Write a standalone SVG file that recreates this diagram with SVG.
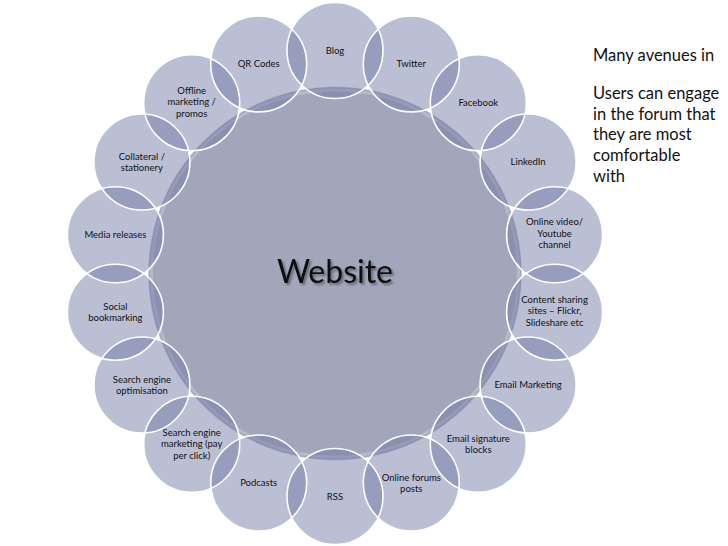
<svg xmlns="http://www.w3.org/2000/svg" width="728" height="546" viewBox="0 0 728 546">
<defs>
<filter id="sh" x="-10%" y="-20%" width="120%" height="140%">
<feGaussianBlur in="SourceAlpha" stdDeviation="1.2"/>
<feOffset dx="1.5" dy="1.5" result="b"/>
<feComponentTransfer><feFuncA type="linear" slope="0.4"/></feComponentTransfer>
<feMerge><feMergeNode/><feMergeNode in="SourceGraphic"/></feMerge>
</filter>
</defs>
<style>
.o{fill:rgb(112,121,166);fill-opacity:0.48}
.ln{fill:none;stroke:#fff;stroke-width:1.6}
.t{font-family:Lato,"Liberation Sans",sans-serif;font-size:9.5px;fill:#111;text-anchor:middle}
.side{font-family:Lato,"Liberation Sans",sans-serif;font-size:16.5px;fill:#111}
</style>
<rect width="728" height="546" fill="#fff"/>
<g id="website">
<circle cx="335" cy="273.5" r="187" fill="#A2A6BA" stroke="#fff" stroke-opacity="0.7" stroke-width="1.2"/>
<circle cx="335" cy="273.5" r="183.5" fill="none" stroke="#BEC2D2" stroke-opacity="0.7" stroke-width="3"/>
<text x="335" y="283" font-family="Lato,'Liberation Sans',sans-serif" font-size="32" fill="#111" text-anchor="middle" filter="url(#sh)">Website</text>
</g>
<g id="blog"><circle class="o" cx="335" cy="50.5" r="48"/><text class="t" x="335" y="53.5">Blog</text></g>
<g id="twitter"><circle class="o" cx="411.3" cy="63.9" r="48"/><text class="t" x="411.3" y="66.9">Twitter</text></g>
<g id="facebook"><circle class="o" cx="478.3" cy="102.7" r="48"/><text class="t" x="478.3" y="105.7">Facebook</text></g>
<g id="linkedin"><circle class="o" cx="528.1" cy="162" r="48"/><text class="t" x="528.1" y="165">LinkedIn</text></g>
<g id="online-video"><circle class="o" cx="554.6" cy="234.8" r="48"/><text class="t" x="554.6" y="225"><tspan x="554.6">Online video/</tspan><tspan x="554.6" dy="11.5">Youtube</tspan><tspan x="554.6" dy="11.5">channel</tspan></text></g>
<g id="content-sharing"><circle class="o" cx="554.6" cy="312.2" r="48"/><text class="t" x="554.6" y="302.5"><tspan x="554.6">Content sharing</tspan><tspan x="554.6" dy="11.5">sites – Flickr,</tspan><tspan x="554.6" dy="11.5">Slideshare etc</tspan></text></g>
<g id="email-marketing"><circle class="o" cx="528.1" cy="385" r="48"/><text class="t" x="528.1" y="388">Email Marketing</text></g>
<g id="email-signature"><circle class="o" cx="478.3" cy="444.3" r="48"/><text class="t" x="478.3" y="441.5"><tspan x="478.3">Email signature</tspan><tspan x="478.3" dy="11.5">blocks</tspan></text></g>
<g id="online-forums"><circle class="o" cx="411.3" cy="483" r="48"/><text class="t" x="411.3" y="480.5"><tspan x="411.3">Online forums</tspan><tspan x="411.3" dy="11.5">posts</tspan></text></g>
<g id="rss"><circle class="o" cx="335" cy="496.5" r="48"/><text class="t" x="335" y="499.5">RSS</text></g>
<g id="podcasts"><circle class="o" cx="258.7" cy="483" r="48"/><text class="t" x="258.7" y="486">Podcasts</text></g>
<g id="sem"><circle class="o" cx="191.7" cy="444.3" r="48"/><text class="t" x="191.7" y="435.5"><tspan x="191.7">Search engine</tspan><tspan x="191.7" dy="11.5">marketing (pay</tspan><tspan x="191.7" dy="11.5">per click)</tspan></text></g>
<g id="seo"><circle class="o" cx="141.9" cy="385" r="48"/><text class="t" x="141.9" y="382.5"><tspan x="141.9">Search engine</tspan><tspan x="141.9" dy="11.5">optimisation</tspan></text></g>
<g id="social-bookmarking"><circle class="o" cx="115.4" cy="312.2" r="48"/><text class="t" x="115.4" y="309.5"><tspan x="115.4">Social</tspan><tspan x="115.4" dy="11.5">bookmarking</tspan></text></g>
<g id="media-releases"><circle class="o" cx="115.4" cy="234.8" r="48"/><text class="t" x="115.4" y="237.8">Media releases</text></g>
<g id="collateral"><circle class="o" cx="141.9" cy="162" r="48"/><text class="t" x="141.9" y="159.5"><tspan x="141.9">Collateral /</tspan><tspan x="141.9" dy="11.5">stationery</tspan></text></g>
<g id="offline-marketing"><circle class="o" cx="191.7" cy="102.7" r="48"/><text class="t" x="191.7" y="93.5"><tspan x="191.7">Offline</tspan><tspan x="191.7" dy="11.5">marketing /</tspan><tspan x="191.7" dy="11.5">promos</tspan></text></g>
<g id="qr-codes"><circle class="o" cx="258.7" cy="63.9" r="48"/><text class="t" x="258.7" y="66.9">QR Codes</text></g>
<g id="outlines">
<circle class="ln" cx="335" cy="50.5" r="48"/>
<circle class="ln" cx="411.3" cy="63.9" r="48"/>
<circle class="ln" cx="478.3" cy="102.7" r="48"/>
<circle class="ln" cx="528.1" cy="162" r="48"/>
<circle class="ln" cx="554.6" cy="234.8" r="48"/>
<circle class="ln" cx="554.6" cy="312.2" r="48"/>
<circle class="ln" cx="528.1" cy="385" r="48"/>
<circle class="ln" cx="478.3" cy="444.3" r="48"/>
<circle class="ln" cx="411.3" cy="483" r="48"/>
<circle class="ln" cx="335" cy="496.5" r="48"/>
<circle class="ln" cx="258.7" cy="483" r="48"/>
<circle class="ln" cx="191.7" cy="444.3" r="48"/>
<circle class="ln" cx="141.9" cy="385" r="48"/>
<circle class="ln" cx="115.4" cy="312.2" r="48"/>
<circle class="ln" cx="115.4" cy="234.8" r="48"/>
<circle class="ln" cx="141.9" cy="162" r="48"/>
<circle class="ln" cx="191.7" cy="102.7" r="48"/>
<circle class="ln" cx="258.7" cy="63.9" r="48"/>
</g>
<g id="note">
<text class="side" x="593" y="60.5">Many avenues in</text>
<text class="side" x="593" y="99">Users can engage</text>
<text class="side" x="593" y="119.7">in the forum that</text>
<text class="side" x="593" y="140.4">they are most</text>
<text class="side" x="593" y="161.1">comfortable</text>
<text class="side" x="593" y="182">with</text>
</g>
</svg>
